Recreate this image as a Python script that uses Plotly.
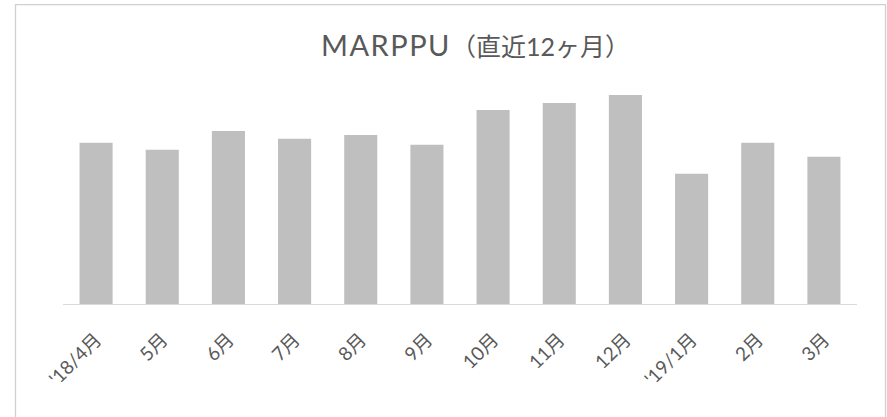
import plotly.graph_objects as go

categories = ["'18/4月", "5月", "6月", "7月", "8月", "9月", "10月", "11月", "12月", "'19/1月", "2月", "3月"]
values = [161.5, 154.5, 173.5, 165.5, 169.5, 159.5, 194.5, 201.5, 209.5, 130.5, 161.5, 147.5]
title_main = "MARPPU"
title_sub = "（直近12ヶ月）"

W, H = 887, 417
L, R = 63, 857
T, B = 80, 304.5
pw, ph = R - L, B - T

def px_x(x):
    return (x - L) / pw

def px_y(y):
    return (B - y) / ph

font_family = "Lato, 'Noto Sans CJK JP', sans-serif"

fig = go.Figure(go.Bar(x=categories, y=values, marker_color="#bfbfbf", marker_line_width=0,
                       hoverinfo="skip"))

fig.update_layout(
    width=W, height=H,
    margin=dict(l=L, r=W - R, t=T, b=H - B, pad=0),
    paper_bgcolor="white", plot_bgcolor="white",
    bargap=0.5,
    showlegend=False,
    font=dict(family=font_family, color="#595959"),
    xaxis=dict(showline=True, linecolor="#d9d9d9", linewidth=1, ticks="", tickangle=-45,
               tickfont=dict(size=19, color="#595959", family=font_family), showgrid=False,
               ticklabelstandoff=16, fixedrange=True),
    yaxis=dict(range=[0, ph], visible=False, showgrid=False, fixedrange=True),
    annotations=[dict(text="<span style='letter-spacing:1.5px'>" + title_main + "</span>"
                           + "<span style='font-size:25px'>" + title_sub + "</span>",
                      x=px_x(475), y=px_y(44), xref="paper", yref="paper",
                      xanchor="center", yanchor="middle", showarrow=False,
                      font=dict(size=29, color="#595959", family=font_family))],
    shapes=[dict(type="rect", xref="paper", yref="paper",
                 x0=px_x(15.5), x1=px_x(885.5), y0=px_y(430), y1=px_y(4.5),
                 line=dict(color="#d0d0d0", width=1.3), fillcolor="rgba(0,0,0,0)")],
)

fig.write_html("out.html", config={"displayModeBar": False},
               post_script="document.body.style.margin='0';document.body.style.overflow='hidden';")
